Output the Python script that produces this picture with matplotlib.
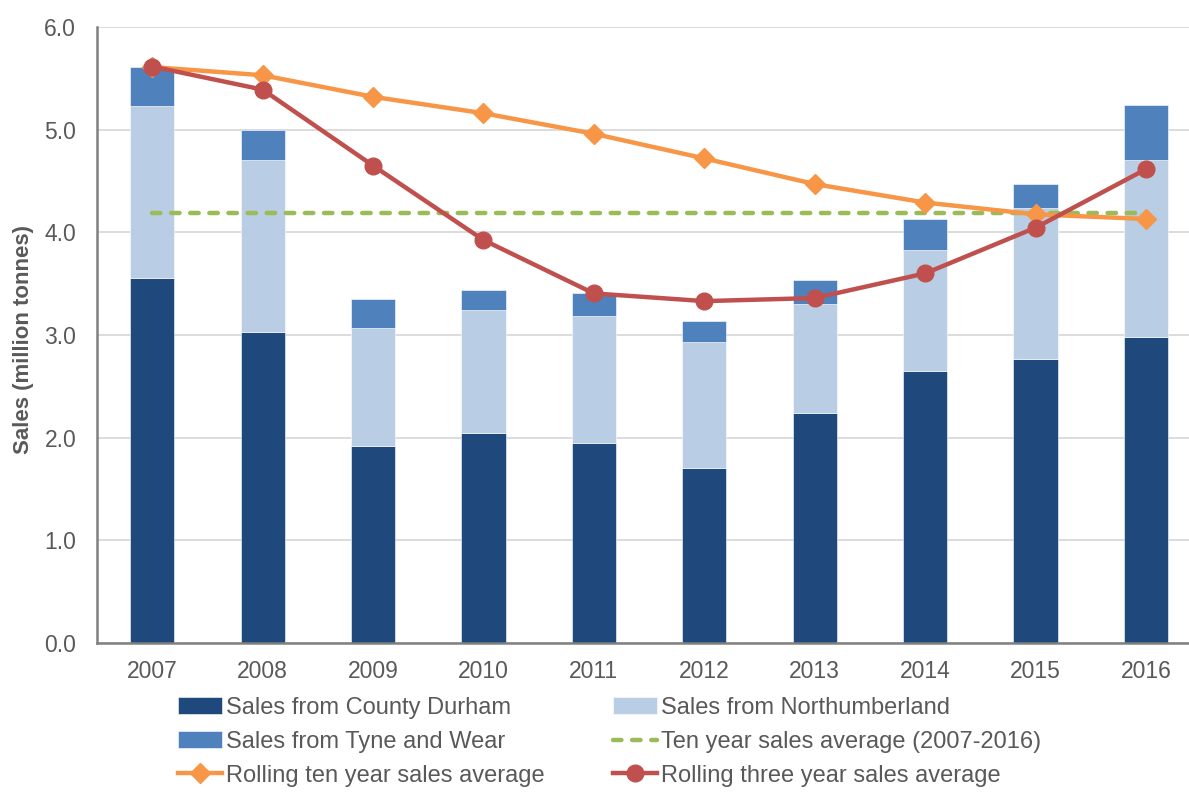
import matplotlib
matplotlib.use("Agg")
import matplotlib.pyplot as plt
import numpy as np

years = ["2007", "2008", "2009", "2010", "2011", "2012", "2013", "2014", "2015", "2016"]
durham = [3.56, 3.03, 1.92, 2.05, 1.95, 1.70, 2.24, 2.65, 2.77, 2.98]
northumberland_top = [5.23, 4.70, 3.07, 3.24, 3.185, 2.93, 3.305, 3.83, 4.24, 4.70]
total = [5.61, 5.00, 3.35, 3.435, 3.41, 3.14, 3.535, 4.13, 4.47, 5.245]
northumberland = [round(n - d, 3) for n, d in zip(northumberland_top, durham)]
tyne_wear = [round(t - n, 3) for t, n in zip(total, northumberland_top)]
ten_year_avg = [4.185] * 10
rolling_ten = [5.61, 5.53, 5.32, 5.16, 4.96, 4.72, 4.47, 4.29, 4.175, 4.13]
rolling_three = [5.615, 5.39, 4.65, 3.925, 3.405, 3.33, 3.36, 3.60, 4.045, 4.615]
yticks = [0.0, 1.0, 2.0, 3.0, 4.0, 5.0, 6.0]

plt.rcParams['font.family'] = ['Liberation Sans', 'DejaVu Sans']
W, H = 1189, 796
fig = plt.figure(figsize=(W / 100, H / 100), dpi=100)
ax = fig.add_axes([97 / W, (H - 643) / H, (1189 - 97) / W, (643 - 27) / H])

x = np.arange(len(years))
bw = 0.4
c_dur, c_nl, c_tw = "#1F497D", "#B9CDE5", "#4F81BD"
c_or, c_red, c_gr = "#F79646", "#C0504D", "#9BBB59"
txt = "#595959"
fs = 16.5

b1 = ax.bar(x, durham, bw, color=c_dur, edgecolor="white", linewidth=0.4, zorder=2)
b2 = ax.bar(x, northumberland, bw, bottom=durham, color=c_nl, edgecolor="white", linewidth=0.4, zorder=2)
b3 = ax.bar(x, tyne_wear, bw, bottom=northumberland_top, color=c_tw, edgecolor="white", linewidth=0.4, zorder=2)

l_avg, = ax.plot(x, ten_year_avg, color=c_gr, lw=3.2, ls=(0, (1.9, 2.4)), dash_capstyle='round', zorder=3)
l_ten, = ax.plot(x, rolling_ten, color=c_or, lw=3.2, marker='D', ms=10, zorder=4)
l_three, = ax.plot(x, rolling_three, color=c_red, lw=3.2, marker='o', ms=12, zorder=5)

ax.set_xlim(-0.5, 9.39)
ax.set_ylim(0, 6.0)
ax.set_yticks(yticks)
ax.set_yticklabels([f"{v:.1f}" for v in yticks])
ax.set_xticks(x)
ax.set_xticklabels(years)
ax.tick_params(axis='both', length=0, labelsize=fs, colors=txt)
ax.tick_params(axis='y', pad=15)
ax.tick_params(axis='x', pad=12)
ax.yaxis.grid(True, color="#D9D9D9", lw=1.3, zorder=0)
ax.set_axisbelow(True)
for s in ["top", "right"]:
    ax.spines[s].set_visible(False)
for s in ["left", "bottom"]:
    ax.spines[s].set_color("#808080")
    ax.spines[s].set_linewidth(1.8)
    ax.spines[s].set_zorder(6)

fig.text(24 / W, (H - 340) / H, "Sales (million tonnes)", rotation=90, va='center', ha='center',
         fontsize=16, fontweight='bold', color=txt)

handles = [b1, b3, l_ten, b2, l_avg, l_three]
labels = ["Sales from County Durham", "Sales from Tyne and Wear", "Rolling ten year sales average",
          "Sales from Northumberland", "Ten year sales average (2007-2016)", "Rolling three year sales average"]
leg = fig.legend(handles, labels, ncol=2, loc='upper left', bbox_to_anchor=(178 / W, (H - 697) / H),
                 frameon=False, fontsize=17, handlelength=1.86, handletextpad=0.17, columnspacing=2.9,
                 labelspacing=0.5, labelcolor=txt, borderaxespad=0, borderpad=0)
fig.savefig("out.png", dpi=100)
